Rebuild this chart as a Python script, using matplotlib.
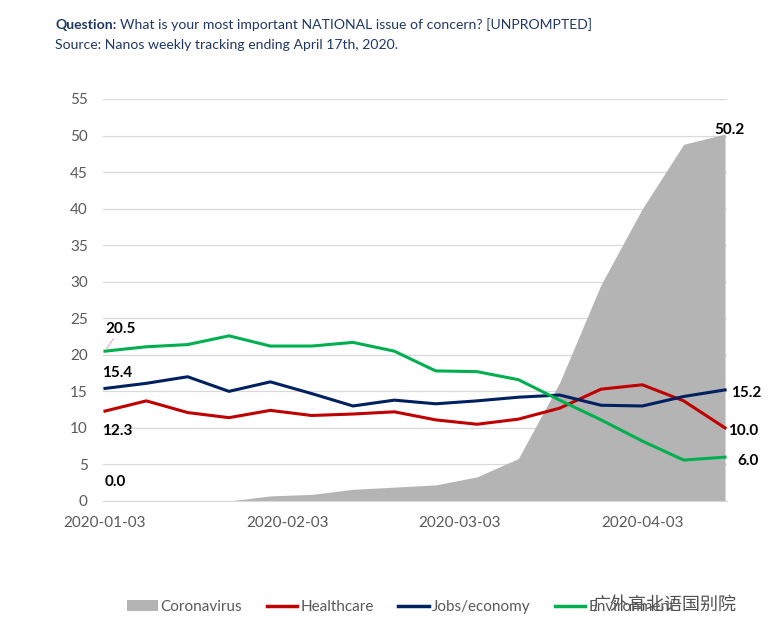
import matplotlib
matplotlib.use("Agg")
import matplotlib.pyplot as plt
import matplotlib.dates as mdates
from matplotlib.patches import Patch
from matplotlib.lines import Line2D
import pandas as pd

plt.rcParams["font.family"] = ["Lato", "DejaVu Sans"]

# weekly tracking points
dates = ["2020-01-03", "2020-01-10", "2020-01-17", "2020-01-24", "2020-01-31",
         "2020-02-07", "2020-02-14", "2020-02-21", "2020-02-28", "2020-03-06",
         "2020-03-13", "2020-03-20", "2020-03-27", "2020-04-03", "2020-04-10",
         "2020-04-17"]
coronavirus = [0.0, 0.0, 0.0, 0.0, 0.7, 0.9, 1.6, 1.9, 2.2, 3.3,
               5.8, 16.2, 29.6, 40.0, 48.8, 50.2]
healthcare = [12.3, 13.7, 12.1, 11.4, 12.4, 11.7, 11.9, 12.2, 11.1, 10.5,
              11.2, 12.7, 15.3, 15.9, 13.7, 10.0]
jobs = [15.4, 16.1, 17.0, 15.0, 16.3, 14.7, 13.0, 13.8, 13.3, 13.7,
        14.2, 14.5, 13.1, 13.0, 14.3, 15.2]
environment = [20.5, 21.1, 21.4, 22.6, 21.2, 21.2, 21.7, 20.5, 17.8, 17.7,
               16.6, 13.8, 11.1, 8.2, 5.6, 6.0]

tick_dates = ["2020-01-03", "2020-02-03", "2020-03-03", "2020-04-03"]
y_ticks = [0, 5, 10, 15, 20, 25, 30, 35, 40, 45, 50, 55]

GRAY = "#B4B4B4"
RED = "#C00000"
NAVY = "#002060"
GREEN = "#00B050"
TXT = "#595959"

x = pd.to_datetime(dates)

fig = plt.figure(figsize=(7.74, 6.37), dpi=100)
ax = fig.add_axes([103 / 774, 1 - 501 / 637, (727 - 103) / 774, (501 - 99) / 637])

ax.fill_between(x, coronavirus, 0, color=GRAY, lw=0, zorder=2)
ax.plot(x, healthcare, color=RED, lw=2.2, zorder=3)
ax.plot(x, jobs, color=NAVY, lw=2.2, zorder=3)
ax.plot(x, environment, color=GREEN, lw=2.2, zorder=3)

ax.set_ylim(0, 55)
ax.set_yticks(y_ticks)
ax.set_xlim(x[0] - pd.Timedelta(hours=8), x[-1] + pd.Timedelta(hours=8))
ax.set_xticks(pd.to_datetime(tick_dates))
ax.xaxis.set_major_formatter(mdates.DateFormatter("%Y-%m-%d"))
ax.grid(axis="y", color="#D9D9D9", lw=0.9, zorder=1)
ax.set_axisbelow(True)
for s in ["top", "right", "left"]:
    ax.spines[s].set_visible(False)
ax.spines["bottom"].set_color("#D9D9D9")
ax.tick_params(axis="both", length=0, labelsize=11, colors=TXT)
ax.tick_params(axis="y", pad=11)
ax.tick_params(axis="x", pad=11)

# data labels at both ends
lab = dict(fontsize=11, fontweight="bold", color="black", zorder=5)
ax.annotate(f"{environment[0]:.1f}", (x[0], environment[0]), xytext=(0, 11),
            textcoords="offset points", ha="left", va="bottom",
            arrowprops=dict(arrowstyle="-", color="#E0B0B8", lw=0.8,
                            shrinkA=0, shrinkB=2), **lab)
ax.annotate(f"{jobs[0]:.1f}", (x[0], jobs[0]), xytext=(-2, 6),
            textcoords="offset points", ha="left", va="bottom", **lab)
ax.annotate(f"{healthcare[0]:.1f}", (x[0], healthcare[0]), xytext=(-2, -9),
            textcoords="offset points", ha="left", va="top", **lab)
ax.annotate(f"{coronavirus[0]:.1f}", (x[0], coronavirus[0]), xytext=(0, 9),
            textcoords="offset points", ha="left", va="bottom", **lab)
ax.annotate(f"{coronavirus[-1]:.1f}", (x[-1], coronavirus[-1]), xytext=(-8, -2),
            textcoords="offset points", ha="left", va="bottom", **lab)
ax.annotate(f"{jobs[-1]:.1f}", (x[-1], jobs[-1]), xytext=(4, -2),
            textcoords="offset points", ha="left", va="center", **lab)
ax.annotate(f"{healthcare[-1]:.1f}", (x[-1], healthcare[-1]), xytext=(2, -2),
            textcoords="offset points", ha="left", va="center", **lab)
ax.annotate(f"{environment[-1]:.1f}", (x[-1], environment[-1]), xytext=(9, -3),
            textcoords="offset points", ha="left", va="center", **lab)

# header
hdr_color = "#1F3864"
q = fig.text(55 / 774, 1 - 25 / 637, "Question:", fontsize=10.1, fontweight="bold",
             color=hdr_color, va="center", ha="left")
fig.canvas.draw()
bb = q.get_window_extent()
fig.text(bb.x1 / fig.bbox.width + 0.005, 1 - 25 / 637,
         "What is your most important NATIONAL issue of concern? [UNPROMPTED]",
         fontsize=10.1, color=hdr_color, va="center", ha="left")
fig.text(55 / 774, 1 - 45 / 637, "Source: Nanos weekly tracking ending April 17th, 2020.",
         fontsize=10.1, color=hdr_color, va="center", ha="left")

# legend
handles = [Patch(facecolor=GRAY, edgecolor="none"),
           Line2D([], [], color=RED, lw=2.5),
           Line2D([], [], color=NAVY, lw=2.5),
           Line2D([], [], color=GREEN, lw=2.5)]
labels = ["Coronavirus", "Healthcare", "Jobs/economy", "Environment"]
fig.legend(handles, labels, loc="center", bbox_to_anchor=(0.518, 1 - 607 / 637),
           ncol=4, frameon=False, fontsize=11, labelcolor=TXT,
           handlelength=2.0, handletextpad=0.2, columnspacing=1.6)

# watermark
fig.text(592 / 774, 1 - 605 / 637, "广外高北语国别院", fontsize=13,
         family=["Noto Sans CJK SC", "DejaVu Sans"], color="#333333", alpha=0.85,
         va="center", ha="left",
         bbox=dict(facecolor="white", edgecolor="none", alpha=0.6, pad=1))

fig.savefig("out.png", dpi=100)
